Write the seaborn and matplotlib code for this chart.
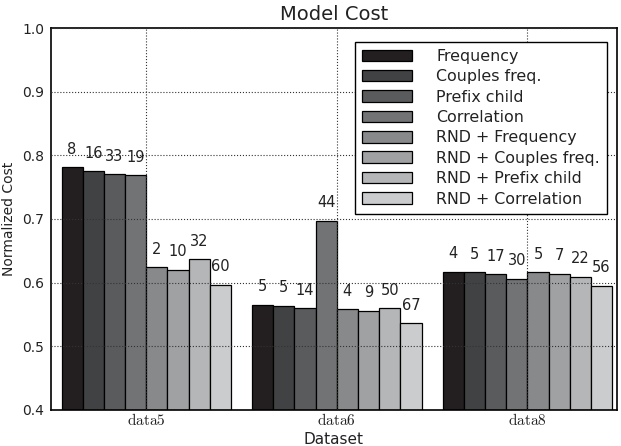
import matplotlib
matplotlib.use("Agg")
import matplotlib.pyplot as plt
import seaborn as sns
import pandas as pd

datasets = ["data5", "data6", "data8"]
methods = ["Frequency", "Couples freq.", "Prefix child", "Correlation",
           "RND + Frequency", "RND + Couples freq.", "RND + Prefix child",
           "RND + Correlation"]
cost_data5 = [0.781, 0.775, 0.770, 0.769, 0.624, 0.620, 0.637, 0.597]
cost_data6 = [0.565, 0.564, 0.560, 0.697, 0.558, 0.556, 0.560, 0.536]
cost_data8 = [0.617, 0.616, 0.613, 0.606, 0.616, 0.614, 0.609, 0.595]
labels_data5 = [8, 16, 33, 19, 2, 10, 32, 60]
labels_data6 = [5, 5, 14, 44, 4, 9, 50, 67]
labels_data8 = [4, 5, 17, 30, 5, 7, 22, 56]
colors = ["#231f20", "#404244", "#5a5b5d", "#727375",
          "#88898b", "#a0a1a3", "#b5b6b8", "#cbcccd"]

costs = [cost_data5, cost_data6, cost_data8]
labels = [labels_data5, labels_data6, labels_data8]

rows = []
for d, cs in zip(datasets, costs):
    for m, c in zip(methods, cs):
        rows.append({"Dataset": d, "Method": m, "Cost": c})
df = pd.DataFrame(rows)

sns.set_style("white")
plt.rcParams["font.family"] = ["DejaVu Sans"]
plt.rcParams["mathtext.fontset"] = "cm"

fig = plt.figure(figsize=(6.21, 4.46), dpi=100)
ax = fig.add_axes([0.082, 0.081, 0.9115, 0.856])

sns.barplot(data=df, x="Dataset", y="Cost", hue="Method", order=datasets,
            hue_order=methods, palette=colors, width=8 / 9, saturation=1,
            edgecolor="black", linewidth=0.9, errorbar=None, ax=ax,
            legend=True)

for i, cont in enumerate(ax.containers):
    lab = [str(labels[j][i]) for j in range(len(datasets))]
    ax.bar_label(cont, labels=lab, padding=7.5, fontsize=10.5, color="#222222")

ax.set_ylim(0.4, 1.0)
ax.set_xlim(-0.5, 2.47)
ax.set_yticks([0.4, 0.5, 0.6, 0.7, 0.8, 0.9, 1.0])
ax.set_yticklabels(["0.4", "0.5", "0.6", "0.7", "0.8", "0.9", "1.0"], fontsize=10)
ax.set_xticks([0, 1, 2])
ax.set_xticklabels([r"$\mathrm{" + d + "}$" for d in datasets], fontsize=11)
ax.tick_params(direction="in", length=0, colors="#222222")
ax.tick_params(axis="x", pad=1.5)
ax.tick_params(axis="y", pad=5)
ax.set_axisbelow(False)
ax.grid(True, linestyle=":", color="#333333", linewidth=0.8)
for s in ax.spines.values():
    s.set_visible(True)
    s.set_color("black")
    s.set_linewidth(1.2)

ax.set_title("Model Cost", fontsize=14, pad=6, color="#222222")
ax.set_xlabel("Dataset", fontsize=11, color="#222222")
ax.xaxis.set_label_coords(0.5, -0.057)
ax.set_ylabel("Normalized Cost", fontsize=10, color="#222222")
ax.yaxis.set_label_coords(-0.062, 0.5)

leg = ax.legend(loc="upper right", bbox_to_anchor=(0.9775, 0.9065),
                bbox_transform=fig.transFigure, borderaxespad=0,
                prop={"size": 11.4}, frameon=True, fancybox=False, framealpha=1,
                edgecolor="black", handlelength=3.2, handleheight=0.75,
                labelspacing=0.34, handletextpad=1.5, borderpad=0.45)
leg.get_frame().set_linewidth(1.0)
for t in leg.get_texts():
    t.set_color("#222222")

fig.savefig("out.png", dpi=100)
